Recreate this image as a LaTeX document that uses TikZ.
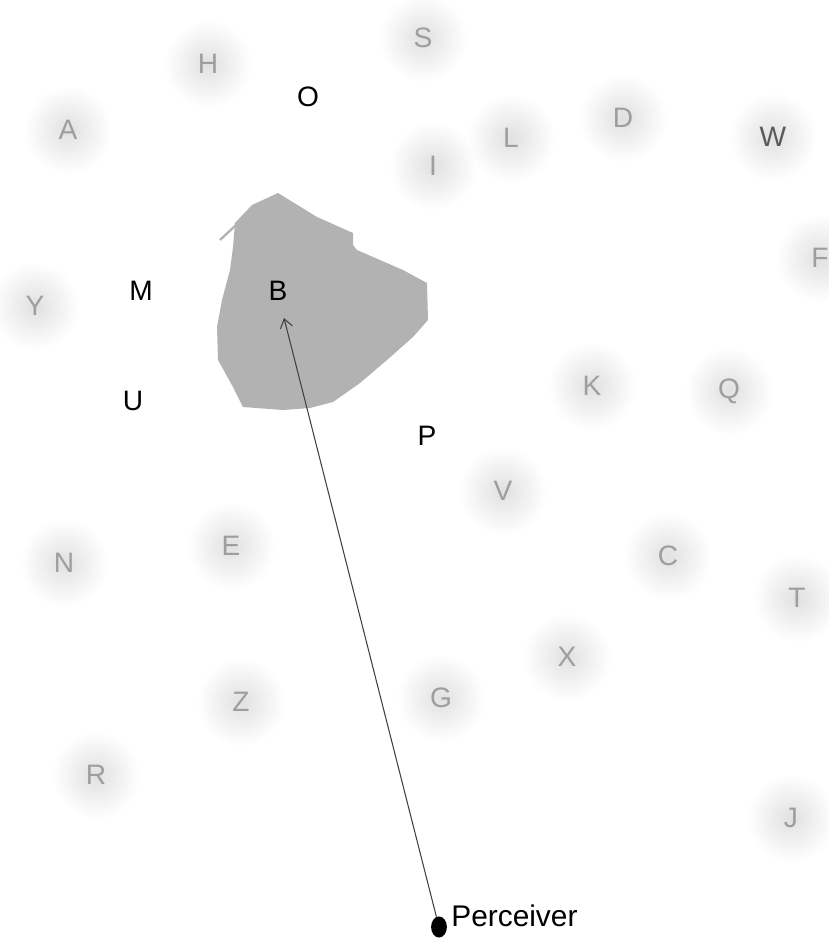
\documentclass[tikz,border=0pt]{standalone}
\usepackage{fontspec}
\setmainfont{Liberation Sans}
\usetikzlibrary{arrows.meta,shapes.geometric}

\begin{document}
\begin{tikzpicture}[x=0.02cm, y=-0.02cm,
  dimLetter/.style ={font=\fontsize{16}{18}\selectfont, text=black!38, inner sep=0pt},
  darkLetter/.style={font=\fontsize{16}{18}\selectfont, text=black, inner sep=0pt},
  glow/.style      ={inner color=black!12, outer color=white},
  gaze/.style      ={black!75, line width=0.6pt, -{Straight Barb[length=5pt,width=7pt]}},
]
\useasboundingbox (0,0) rectangle (829,938);

% the occluding blob
\fill[black!30] (278,193) -- (252,205) -- (235,223) -- (233,247) -- (230,270)
  -- (222,300) -- (217,327) -- (218,360) -- (233,387) -- (243,407) -- (283,410)
  -- (310,408) -- (333,402) -- (360,383) -- (387,360) -- (413,337) -- (428,320)
  -- (427,283) -- (403,270) -- (380,260) -- (357,250) -- (353,245) -- (353,233)
  -- (317,217) -- cycle;
\draw[black!30, line width=1.3pt] (220,240) -- (252,210);

% soft halos of the hidden letters
\begin{scope}[blend mode=multiply]
\foreach \x/\y in {208/64,423/38,68/130,511/138,623/118,773/137,433/166,820/258,
  35/306,592/386,729/391,503/491,64/563,231/546,668/556,797/598,567/657,
  241/702,441/698,96/775,791/818} {
  \shade[glow] (\x,\y) circle (44);
}
\end{scope}

% hidden letters
\foreach \l/\x/\y in {H/208/64,S/423/38,A/68/130,L/511/138,D/623/118,
  I/433/166,F/820/258,Y/35/306,K/592/386,Q/729/391,V/503/491,N/64/563,E/231/546,
  C/668/556,T/797/598,X/567/657,Z/241/702,G/441/698,R/96/775,J/791/818} {
  \node[dimLetter] (\l) at (\x,\y) {\l};
}
\node[dimLetter, text=black!65] (W) at (773,137) {W};

% visible letters
\foreach \l/\x/\y in {O/308/97,M/141/291,B/278/291,U/133/401,P/427/436} {
  \node[darkLetter] (\l) at (\x,\y) {\l};
}

% perceiver and line of sight
\node[ellipse, fill=black, inner sep=0pt, minimum width=9pt, minimum height=12pt] (dot) at (439,927) {};
\node[darkLetter, anchor=west, font=\fontsize{17}{19}\selectfont] (perceiver) at (451,916) {Perceiver};
\coordinate (target) at (284,318);
\draw[gaze] (dot) -- (target);
\end{tikzpicture}
\end{document}
